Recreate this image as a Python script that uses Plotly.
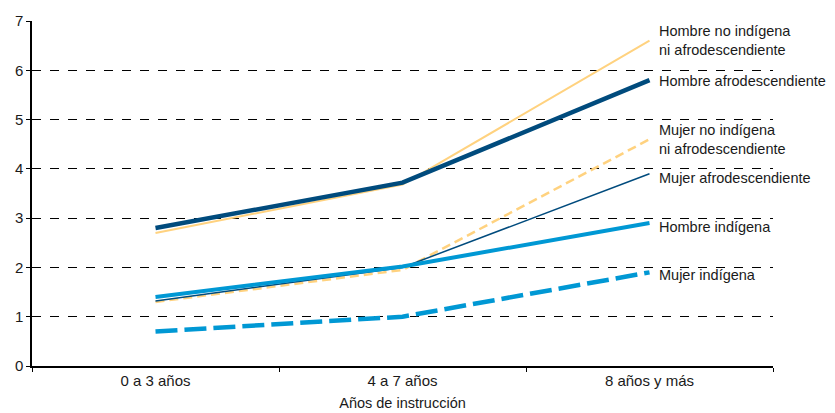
import plotly.graph_objects as go

# ---- data ----
categories = ["0 a 3 años", "4 a 7 años", "8 años y más"]

hombre_no_ind = [2.7, 3.68, 6.6]
hombre_afro = [2.8, 3.72, 5.8]
mujer_no_ind = [1.3, 1.95, 4.6]
mujer_afro = [1.32, 2.0, 3.9]
hombre_ind = [1.4, 2.02, 2.9]
mujer_ind = [0.7, 1.0, 1.9]

ORANGE = "#FFD27F"
DARK = "#004B7D"
LIGHT = "#0098D4"

series = [
    # name, values, color, width, dash, label, label yshift (px)
    ("Hombre no indígena ni afrodescendiente", hombre_no_ind, ORANGE, 2, "solid",
     "Hombre no indígena<br>ni afrodescendiente", 0),
    ("Mujer no indígena ni afrodescendiente", mujer_no_ind, ORANGE, 2.5, "9px,5px",
     "Mujer no indígena<br>ni afrodescendiente", 0),
    ("Hombre afrodescendiente", hombre_afro, DARK, 4.5, "solid", "Hombre afrodescendiente", -1),
    ("Mujer afrodescendiente", mujer_afro, DARK, 1.5, "solid", "Mujer afrodescendiente", -4),
    ("Hombre indígena", hombre_ind, LIGHT, 4, "solid", "Hombre indígena", -4),
    ("Mujer indígena", mujer_ind, LIGHT, 4.5, "22px,7px", "Mujer indígena", -3),
]

fig = go.Figure()
for name, vals, col, w, dash, lbl, ys in series:
    fig.add_trace(go.Scatter(x=categories, y=vals, mode="lines", name=name,
                             line=dict(color=col, width=w, dash=dash)))
    fig.add_annotation(x=categories[-1], y=vals[-1], text=lbl, showarrow=False,
                       xanchor="left", yanchor="middle", align="left",
                       xshift=7, yshift=ys,
                       font=dict(size=14.5, color="#1a1a1a"))

# page body has an 8px margin -> figure shrunk/shifted to compensate
fig.update_layout(
    width=827, height=405,
    margin=dict(l=24, r=62, t=13, b=47, autoexpand=False),
    plot_bgcolor="white", paper_bgcolor="white",
    showlegend=False,
    font=dict(family="Liberation Sans, Arial, sans-serif", size=15, color="#1a1a1a"),
    xaxis=dict(type="category", range=[-0.5, 2.5], tickson="boundaries",
               showline=True, linecolor="black", linewidth=1.5,
               ticks="outside", ticklen=4, tickcolor="black",
               showgrid=False, zeroline=False, automargin=False,
               title=dict(text="Años de instrucción", standoff=10, font=dict(size=14.5))),
    yaxis=dict(range=[0, 7], dtick=1, showline=True, linecolor="black", linewidth=1.5,
               ticks="outside", ticklen=4, tickcolor="black",
               showgrid=True, gridcolor="black", gridwidth=1, griddash="dash",
               zeroline=False, automargin=False, tickfont=dict(size=15)),
)

fig.write_html("out.html")
